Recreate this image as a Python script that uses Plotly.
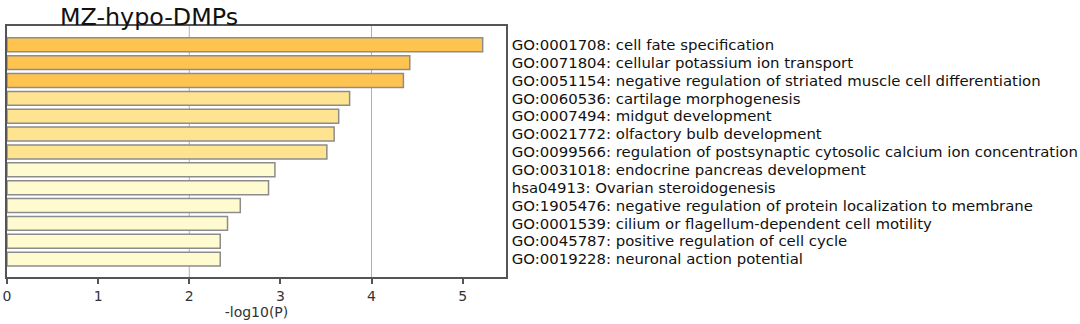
import plotly.graph_objects as go

# Enrichment terms, ordered top to bottom
terms = [
    "GO:0001708: cell fate specification",
    "GO:0071804: cellular potassium ion transport",
    "GO:0051154: negative regulation of striated muscle cell differentiation",
    "GO:0060536: cartilage morphogenesis",
    "GO:0007494: midgut development",
    "GO:0021772: olfactory bulb development",
    "GO:0099566: regulation of postsynaptic cytosolic calcium ion concentration",
    "GO:0031018: endocrine pancreas development",
    "hsa04913: Ovarian steroidogenesis",
    "GO:1905476: negative regulation of protein localization to membrane",
    "GO:0001539: cilium or flagellum-dependent cell motility",
    "GO:0045787: positive regulation of cell cycle",
    "GO:0019228: neuronal action potential",
]
neg_log10_p = [5.22, 4.42, 4.35, 3.76, 3.64, 3.59, 3.51, 2.94, 2.87, 2.56, 2.42, 2.34, 2.34]

x_ticks = [0, 1, 2, 3, 4, 5]
title_text = "MZ-hypo-DMPs"
x_title = "-log10(P)"


def bar_color(v):
    if v >= 4:
        return "#FEC44F"
    if v >= 3:
        return "#FEE391"
    return "#FFFBD0"


positions = list(range(len(terms)))

fig = go.Figure(
    go.Bar(
        x=neg_log10_p,
        y=positions,
        orientation="h",
        width=0.78,
        marker=dict(
            color=[bar_color(v) for v in neg_log10_p],
            line=dict(color="#8C8C8C", width=1.5),
        ),
        hoverinfo="x+text",
        text=terms,
        textposition="none",
    )
)

fig.update_layout(
    width=1080,
    height=324,
    margin=dict(l=7, r=574, t=26, b=47),
    paper_bgcolor="white",
    plot_bgcolor="white",
    showlegend=False,
    font=dict(family="DejaVu Sans", color="#222222"),
    title=dict(
        text=title_text,
        x=60 / 1080,
        xanchor="left",
        xref="container",
        y=1 - 25 / 324,
        yanchor="bottom",
        yref="container",
        font=dict(size=23.8, family="DejaVu Sans", color="#111111"),
        pad=dict(l=0, r=0, t=0, b=0),
    ),
)

fig.update_xaxes(
    range=[0, 5.476],
    tickvals=x_ticks,
    ticks="outside",
    ticklen=5,
    tickwidth=1.5,
    tickcolor="#555555",
    tickfont=dict(size=14, color="#333333"),
    showline=True,
    linecolor="#555555",
    linewidth=1.5,
    mirror=True,
    showgrid=False,
    zeroline=False,
    automargin=False,
    title=dict(text=x_title, font=dict(size=14, color="#333333"), standoff=5),
)

fig.update_yaxes(
    range=[12 + 1.0, -1.05],
    tickvals=positions,
    ticktext=terms,
    side="right",
    ticks="",
    ticklabelstandoff=1,
    tickfont=dict(size=14.9, color="#111111"),
    showline=True,
    linecolor="#555555",
    linewidth=1.5,
    mirror=True,
    showgrid=False,
    zeroline=False,
    automargin=False,
)

# Vertical gridlines at the even ticks only, behind the bars
for gx in [2, 4]:
    fig.add_shape(
        type="line", xref="x", yref="paper", x0=gx, x1=gx, y0=0, y1=1,
        line=dict(color="#B0B0B0", width=1), layer="below",
    )

fig.write_html("out.html")
